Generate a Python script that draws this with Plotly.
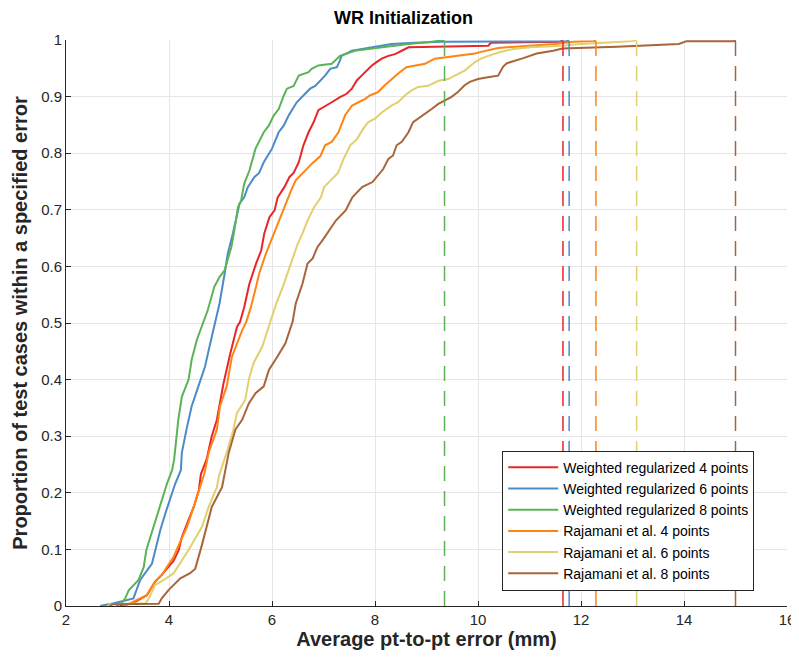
import plotly.graph_objects as go

# cumulative error curves (error in mm, proportion of cases)
wr4_err = [3.05, 3.3, 3.57, 3.73, 3.86, 4.09, 4.19, 4.25, 4.38, 4.48, 4.58, 4.62, 4.73, 4.83, 4.93, 4.99,
           5.06, 5.19, 5.32, 5.38, 5.46, 5.56, 5.69, 5.79, 5.85, 5.95, 6.05, 6.11, 6.24, 6.34, 6.42, 6.52,
           6.61, 6.71, 6.81, 6.90, 7.0, 7.16, 7.32, 7.45, 7.55, 7.65, 7.74, 7.84, 7.94, 8.03, 8.13, 8.26,
           8.39, 8.52, 8.65, 10.2, 10.25, 11.6, 11.65]
wr4_prop = [0.0, 0.005, 0.019, 0.043, 0.055, 0.08, 0.099, 0.122, 0.152, 0.175, 0.205, 0.233, 0.259, 0.30,
            0.329, 0.358, 0.394, 0.446, 0.493, 0.502, 0.528, 0.569, 0.605, 0.628, 0.658, 0.687, 0.699, 0.722,
            0.74, 0.758, 0.765, 0.784, 0.814, 0.837, 0.855, 0.876, 0.882, 0.89, 0.899, 0.905, 0.914, 0.929,
            0.937, 0.946, 0.955, 0.961, 0.967, 0.972, 0.975, 0.981, 0.987, 0.99, 0.995, 0.997, 1.0]

wr6_err = [2.66, 2.93, 3.31, 3.44, 3.67, 3.73, 3.83, 3.93, 4.03, 4.12, 4.23, 4.25, 4.34, 4.44, 4.57, 4.70,
           4.77, 4.90, 4.98, 5.08, 5.14, 5.24, 5.30, 5.37, 5.46, 5.53, 5.66, 5.75, 5.84, 6.0, 6.13, 6.23,
           6.32, 6.48, 6.61, 6.74, 6.84, 7.03, 7.13, 7.26, 7.32, 7.35, 7.55, 7.74, 8.13, 8.32, 8.77, 9.3,
           11.72, 11.77]
wr6_prop = [0.0, 0.005, 0.0135, 0.046, 0.075, 0.099, 0.134, 0.164, 0.193, 0.216, 0.24, 0.271, 0.312, 0.353,
            0.388, 0.423, 0.452, 0.502, 0.534, 0.587, 0.622, 0.658, 0.681, 0.711, 0.722, 0.74, 0.758, 0.765,
            0.784, 0.808, 0.837, 0.849, 0.866, 0.89, 0.902, 0.914, 0.919, 0.937, 0.949, 0.952, 0.964, 0.972,
            0.981, 0.984, 0.99, 0.993, 0.995, 0.997, 0.998, 1.0]

wr8_err = [2.98, 3.08, 3.15, 3.22, 3.41, 3.51, 3.56, 3.70, 3.86, 3.96, 4.06, 4.10, 4.18, 4.25, 4.38, 4.44,
           4.54, 4.66, 4.75, 4.88, 4.98, 5.08, 5.14, 5.21, 5.27, 5.34, 5.40, 5.46, 5.56, 5.68, 5.84, 5.94,
           6.03, 6.13, 6.23, 6.29, 6.42, 6.52, 6.71, 6.77, 6.90, 7.16, 7.32, 7.61, 7.87, 8.13, 8.39, 8.65,
           9.03, 9.29, 9.35]
wr8_prop = [0.0, 0.005, 0.0135, 0.028, 0.046, 0.069, 0.099, 0.14, 0.184, 0.216, 0.24, 0.259, 0.329, 0.37,
            0.40, 0.435, 0.47, 0.50, 0.522, 0.564, 0.581, 0.593, 0.611, 0.634, 0.664, 0.705, 0.716, 0.746,
            0.769, 0.808, 0.837, 0.849, 0.866, 0.878, 0.902, 0.914, 0.919, 0.937, 0.943, 0.949, 0.955, 0.958,
            0.972, 0.981, 0.984, 0.987, 0.99, 0.993, 0.996, 0.999, 1.0]

raj4_err = [3.1, 3.25, 3.57, 3.73, 3.86, 4.09, 4.22, 4.35, 4.48, 4.61, 4.69, 4.77, 4.93, 4.99, 5.12, 5.22,
            5.32, 5.42, 5.50, 5.59, 5.69, 5.75, 5.88, 6.01, 6.11, 6.27, 6.37, 6.46, 6.64, 6.78, 6.94, 7.03,
            7.16, 7.29, 7.42, 7.55, 7.68, 7.81, 7.90, 8.06, 8.19, 8.32, 8.48, 8.61, 8.77, 8.97, 9.16, 9.42,
            9.68, 9.94, 10.06, 10.39, 11.0, 11.5, 11.85, 12.25, 12.29]
raj4_prop = [0.0, 0.005, 0.019, 0.043, 0.055, 0.087, 0.114, 0.14, 0.175, 0.21, 0.235, 0.271, 0.312, 0.353,
             0.388, 0.44, 0.464, 0.487, 0.502, 0.528, 0.564, 0.587, 0.622, 0.652, 0.675, 0.711, 0.734, 0.752,
             0.769, 0.782, 0.795, 0.814, 0.82, 0.837, 0.867, 0.884, 0.89, 0.896, 0.902, 0.908, 0.92, 0.931,
             0.943, 0.952, 0.955, 0.958, 0.967, 0.97, 0.973, 0.976, 0.979, 0.986, 0.99, 0.993, 0.997, 0.998,
             1.0]

raj6_err = [2.82, 2.85, 3.55, 3.61, 3.73, 3.90, 4.09, 4.25, 4.38, 4.64, 4.77, 4.93, 4.97, 5.12, 5.25, 5.32,
            5.48, 5.55, 5.64, 5.81, 5.96, 6.08, 6.21, 6.34, 6.50, 6.59, 6.69, 6.82, 6.95, 7.01, 7.14, 7.28,
            7.39, 7.52, 7.65, 7.77, 7.87, 8.0, 8.13, 8.32, 8.45, 8.58, 8.71, 8.84, 9.03, 9.23, 9.42, 9.61,
            9.74, 9.94, 10.06, 10.2, 10.4, 10.68, 11.01, 11.65, 11.98, 12.62, 13.0, 13.08]
raj6_prop = [0.0, 0.003, 0.005, 0.0135, 0.037, 0.046, 0.058, 0.081, 0.099, 0.14, 0.175, 0.21, 0.23, 0.271,
             0.312, 0.341, 0.364, 0.40, 0.429, 0.458, 0.502, 0.534, 0.564, 0.599, 0.64, 0.658, 0.681, 0.705,
             0.722, 0.74, 0.752, 0.765, 0.79, 0.814, 0.825, 0.843, 0.855, 0.861, 0.872, 0.884, 0.89, 0.902,
             0.911, 0.917, 0.919, 0.928, 0.931, 0.94, 0.946, 0.961, 0.967, 0.972, 0.978, 0.984, 0.987, 0.99,
             0.993, 0.996, 0.998, 1.0]

raj8_err = [2.85, 2.9, 3.80, 3.86, 3.99, 4.22, 4.41, 4.51, 4.64, 4.74, 4.83, 5.03, 5.08, 5.16, 5.29, 5.42,
            5.55, 5.68, 5.84, 5.94, 6.10, 6.26, 6.40, 6.46, 6.59, 6.69, 6.79, 6.88, 6.98, 7.11, 7.24, 7.43,
            7.56, 7.75, 7.95, 8.16, 8.26, 8.35, 8.42, 8.52, 8.65, 8.74, 8.84, 8.97, 9.10, 9.23, 9.35, 9.48,
            9.61, 9.74, 9.84, 10.0, 10.19, 10.39, 10.49, 10.56, 10.88, 11.14, 11.46, 11.64, 12.7, 13.9, 14.05,
            14.97, 15.0]
raj8_prop = [0.0, 0.003, 0.004, 0.0135, 0.028, 0.049, 0.058, 0.066, 0.108, 0.146, 0.175, 0.21, 0.235, 0.271,
             0.312, 0.329, 0.358, 0.376, 0.388, 0.417, 0.44, 0.464, 0.502, 0.534, 0.569, 0.605, 0.614, 0.634,
             0.646, 0.664, 0.681, 0.699, 0.722, 0.74, 0.749, 0.772, 0.79, 0.796, 0.814, 0.82, 0.837, 0.855,
             0.861, 0.869, 0.878, 0.887, 0.893, 0.899, 0.908, 0.92, 0.926, 0.931, 0.934, 0.937, 0.953, 0.959,
             0.968, 0.976, 0.981, 0.985, 0.988, 0.993, 0.998, 0.998, 1.0]

names = ['Weighted regularized 4 points', 'Weighted regularized 6 points', 'Weighted regularized 8 points',
         'Rajamani et al. 4 points', 'Rajamani et al. 6 points', 'Rajamani et al. 8 points']
colors = ['#E8262A', '#4B8BC8', '#5BB356', '#FF8412', '#E0D06E', '#A8643A']

series = [(wr4_err, wr4_prop), (wr6_err, wr6_prop), (wr8_err, wr8_prop),
          (raj4_err, raj4_prop), (raj6_err, raj6_prop), (raj8_err, raj8_prop)]

font = 'Liberation Sans, Arial, sans-serif'
ink = '#262626'

fig = go.Figure()

for (err, prop), name, color in zip(series, names, colors):
    fig.add_trace(go.Scatter(x=err, y=prop, mode='lines', name=name,
                             line=dict(color=color, width=2)))

# dashed marker at each method's worst case
for (err, prop), color in zip(series, colors):
    fig.add_trace(go.Scatter(x=[max(err), max(err)], y=[0, 1], mode='lines', showlegend=False,
                             hoverinfo='skip', line=dict(color=color, width=1.5, dash='15px,10px')))

# the page body keeps an 8px margin, so the figure is 8px smaller than the window
fig.update_layout(
    width=791,
    height=652,
    template='plotly_white',
    plot_bgcolor='white',
    paper_bgcolor='white',
    margin=dict(l=58, r=12, t=32, b=54),
    font=dict(family=font, color=ink, size=15),
    title=dict(text='<b>WR Initialization</b>', x=0.5, xanchor='center', y=1 - 10 / 652, yanchor='middle',
               font=dict(size=18, color='black')),
    legend=dict(x=0.605, y=0.027, xanchor='left', yanchor='bottom', bgcolor='white',
                bordercolor=ink, borderwidth=1, font=dict(size=14, color='black'),
                itemwidth=50, tracegroupgap=0),
    showlegend=True,
)

fig.update_xaxes(range=[2, 16], dtick=2, showgrid=True, gridcolor='#E6E6E6', gridwidth=1,
                 showline=True, linecolor=ink, linewidth=1, ticks='inside', ticklen=5, tickcolor=ink,
                 zeroline=False, tickfont=dict(size=15), automargin=False,
                 title=dict(text='<b>Average pt-to-pt error (mm)</b>', font=dict(size=20, color=ink), standoff=0))
fig.update_yaxes(range=[0, 1], dtick=0.1, showgrid=True, gridcolor='#E6E6E6', gridwidth=1,
                 showline=True, linecolor=ink, linewidth=1, ticks='inside', ticklen=5, tickcolor=ink,
                 zeroline=False, tickfont=dict(size=15), automargin=False,
                 title=dict(text='<b>Proportion of test cases within a specified error</b>',
                            font=dict(size=20, color=ink), standoff=8))

fig.write_html("out.html")
